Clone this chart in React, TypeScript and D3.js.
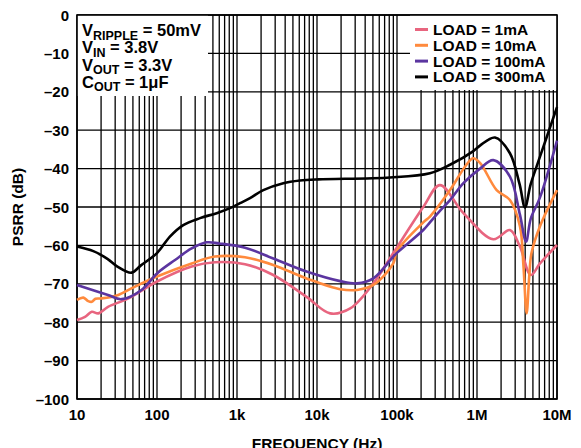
import React from "react";
import * as d3 from "d3";

const W = 581;
const H = 448;

const xTickValues = [10, 100, 1e3, 1e4, 1e5, 1e6, 1e7];
const xTickLabels = ["10", "100", "1k", "10k", "100k", "1M", "10M"];
const yTickValues = [0, -10, -20, -30, -40, -50, -60, -70, -80, -90, -100];
const yTickLabels = ["0", "\u201310", "\u201320", "\u201330", "\u201340", "\u201350", "\u201360", "\u201370", "\u201380", "\u201390", "\u2013100"];

const load1mA: [number, number][] = [
  [10, -79.4], [12.6, -78.6], [15.3, -77.3], [18.5, -77.7], [24.4, -76], [43.9, -73.8],
  [100, -69.4], [271, -65.5], [531, -64.4], [1260, -64.9], [2840, -67.7], [7400, -73.4],
  [14600, -77.7], [26000, -76.4], [50600, -69.9], [89900, -62], [213e3, -50], [344e3, -44.3],
  [676e3, -51.6], [1.6e6, -58.4], [2.58e6, -56], [3.44e6, -60.3], [4.7e6, -67.7],
  [6.13e6, -64.7], [10e6, -59.9],
];
const load10mA: [number, number][] = [
  [10, -74.2], [12, -73.6], [13.8, -74.5], [15.3, -74.7], [17, -73.9], [20.4, -73.8],
  [32.8, -72.9], [50, -71], [100, -68.1], [271, -64.7], [531, -62.9], [1260, -63.1],
  [2840, -65.1], [7400, -68.6], [19500, -71.4], [31600, -71.6], [50600, -70.3], [89900, -64.7],
  [99e3, -61.6], [213e3, -54], [258e3, -52.5], [460e3, -45.6], [708e3, -39.5], [891e3, -37.3],
  [1.09e6, -38.5], [1.76e6, -45.6], [2.58e6, -48.2], [3.44e6, -55], [3.8e6, -65], [4.17e6, -77.7],
  [4.5e6, -68], [4.8e6, -62], [6.13e6, -55], [10e6, -45.6],
];
const load100mA: [number, number][] = [
  [10, -70.3], [24.4, -72.9], [36, -74], [64, -71.6], [100, -67.3], [168, -63.8], [271, -60.8],
  [418, -59.2], [600, -59.5], [1260, -60.6], [2840, -63.4], [7400, -66.8], [19500, -69.3],
  [31600, -69.9], [50600, -68.6], [89900, -62.9], [99e3, -62], [213e3, -56], [258e3, -54],
  [344e3, -51], [460e3, -48.2], [676e3, -43.8], [1.09e6, -40], [1.6e6, -37.8], [2.58e6, -42.1],
  [3.44e6, -52], [4.1e6, -59], [4.7e6, -53], [6.13e6, -47.5], [10e6, -32.7],
];
const load300mA: [number, number][] = [
  [10, -60.3], [16, -61.5], [24, -63.5], [32, -65.5], [48, -67.1], [63, -65.2], [100, -62],
  [145, -57.7], [213, -54.7], [345, -52.9], [557, -51.6], [817, -50.3], [1090, -49],
  [1454, -47.7], [2132, -45.6], [3793, -43.8], [6131, -43.1], [10380, -42.8],
  [81800, -42.3], [258e3, -41.2], [460e3, -39], [891e3, -35.5], [1.09e6, -34],
  [1.68e6, -31.9], [2.58e6, -36], [3.4e6, -44], [3.98e6, -50.1], [4.7e6, -44], [6.13e6, -36.9],
  [10e6, -24],
];

const seriesNames = ["LOAD = 1mA", "LOAD = 10mA", "LOAD = 100mA", "LOAD = 300mA"];
const seriesData = [load1mA, load10mA, load100mA, load300mA];
const seriesColors = ["#E8657F", "#FF8A3D", "#5B35A0", "#000000"];

const conditionLines = [
  { main: "V", sub: "RIPPLE", rest: " = 50mV" },
  { main: "V", sub: "IN", rest: " = 3.8V" },
  { main: "V", sub: "OUT", rest: " = 3.3V" },
  { main: "C", sub: "OUT", rest: " = 1\u03BCF" },
];

const left = 77, right = 557, top = 15, bottom = 399;
const FONT = "'Liberation Sans', Arial, sans-serif";

export default function App() {
  const x = d3.scaleLog().domain([10, 1e7]).range([left, right]);
  const y = d3.scaleLinear().domain([0, -100]).range([top, bottom]);

  const minor: number[] = [];
  for (let d = 10; d < 1e7; d *= 10) {
    for (let k = 2; k <= 9; k++) minor.push(d * k);
  }

  const line = d3
    .line<[number, number]>()
    .x((d) => x(d[0]))
    .y((d) => y(d[1]))
    .curve(d3.curveCatmullRom.alpha(0.5));

  return (
    <div style={{ position: "fixed", left: 0, top: 0 }}>
      <svg width={W} height={H} style={{ display: "block", background: "#fff" }} fontFamily={FONT}>
        <g stroke="#000" strokeWidth={1.3}>
          {minor.concat(xTickValues).map((v, i) => (
            <line key={"v" + i} x1={x(v)} x2={x(v)} y1={top} y2={bottom} />
          ))}
          {yTickValues.map((v, i) => (
            <line key={"h" + i} x1={left} x2={right} y1={y(v)} y2={y(v)} />
          ))}
        </g>
        <rect x={left} y={top} width={131} height={81} fill="#fff" />
        <rect x={410} y={top} width={right - 410} height={75} fill="#fff" />
        <rect x={left} y={top} width={right - left} height={bottom - top} fill="none" stroke="#000" strokeWidth={1.6} />
        {seriesData.map((s, i) => (
          <path key={i} d={line(s) || ""} fill="none" stroke={seriesColors[i]} strokeWidth={2.6} strokeLinejoin="round" />
        ))}
        <g fontWeight="bold" fontSize={15} fill="#000">
          {xTickValues.map((v, i) => (
            <text key={i} x={x(v)} y={420} textAnchor="middle">{xTickLabels[i]}</text>
          ))}
          {yTickValues.map((v, i) => (
            <text key={i} x={69} y={y(v) + 5.5} textAnchor="end">{yTickLabels[i]}</text>
          ))}
        </g>
        <text x={(left + right) / 2} y={449} textAnchor="middle" fontWeight="bold" fontSize={15.5}>FREQUENCY (Hz)</text>
        <text transform={`translate(23,${(top + bottom) / 2}) rotate(-90)`} textAnchor="middle" fontWeight="bold" fontSize={15.5}>PSRR (dB)</text>
        <g fontWeight="bold" fontSize={16.5}>
          {conditionLines.map((c, i) => (
            <text key={i} x={82} y={36 + i * 17.3}>
              {c.main}
              <tspan fontSize={12.5} dy={3.5}>{c.sub}</tspan>
              <tspan dy={-3.5}>{c.rest}</tspan>
            </text>
          ))}
        </g>
        <g fontWeight="bold" fontSize={15.5}>
          {seriesNames.map((n, i) => (
            <g key={i}>
              <line x1={415} x2={428} y1={29.5 + i * 15.8} y2={29.5 + i * 15.8} stroke={seriesColors[i]} strokeWidth={3} />
              <text x={433} y={35 + i * 15.8}>{n}</text>
            </g>
          ))}
        </g>
      </svg>
    </div>
  );
}
